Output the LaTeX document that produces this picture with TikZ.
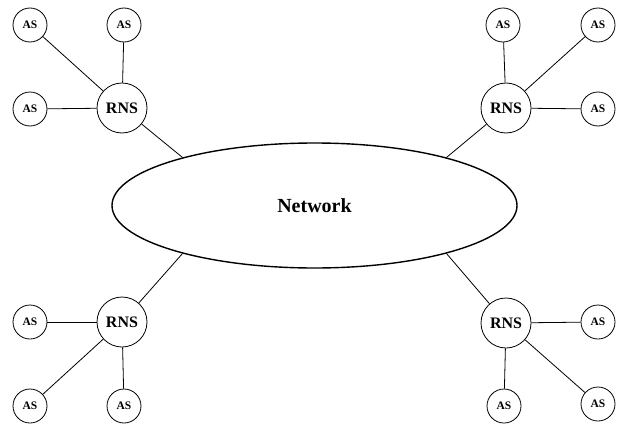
\documentclass[tikz,border=0pt]{standalone}
\usepackage{fontspec}
\setmainfont{Liberation Serif}
\usetikzlibrary{shapes.geometric}
\begin{document}
\begin{tikzpicture}[x=1pt,y=-1pt,line width=0.8pt,
        as/.style={circle, draw, minimum size=34pt, inner sep=0pt, font=\fontsize{11.5}{12}\selectfont\bfseries},
        rns/.style={circle, draw, minimum size=50pt, inner sep=0pt, font=\fontsize{16}{18}\selectfont\bfseries}]
        \useasboundingbox (0,0) rectangle (618,423);
        \node[ellipse, draw, line width=1.4pt, minimum width=405pt, minimum height=125pt, font=\fontsize{20}{22}\selectfont\bfseries] (net) at (314.5,205.5) {Network};
        \node[rns] (rnsA) at (122,108) {RNS};
        \node[rns] (rnsB) at (506,108) {RNS};
        \node[rns] (rnsC) at (122,322) {RNS};
        \node[rns] (rnsD) at (506,323) {RNS};
        \node[as] (asA1) at (30,25) {AS};
        \node[as] (asA2) at (124,25) {AS};
        \node[as] (asA3) at (30,109) {AS};
        \node[as] (asB1) at (503,25) {AS};
        \node[as] (asB2) at (598,25) {AS};
        \node[as] (asB3) at (598,109) {AS};
        \node[as] (asC1) at (30,322) {AS};
        \node[as] (asC2) at (30,406) {AS};
        \node[as] (asC3) at (124,406) {AS};
        \node[as] (asD1) at (598,322) {AS};
        \node[as] (asD2) at (504,406) {AS};
        \node[as] (asD3) at (598,404) {AS};
        \draw (rnsA) -- (net.160);
        \draw (rnsB) -- (net.20);
        \draw (rnsC) -- (net.200);
        \draw (rnsD) -- (net.340);
        \draw (rnsA) -- (asA1);
        \draw (rnsA) -- (asA2);
        \draw (rnsA) -- (asA3);
        \draw (rnsB) -- (asB1);
        \draw (rnsB) -- (asB2);
        \draw (rnsB) -- (asB3);
        \draw (rnsC) -- (asC1);
        \draw (rnsC) -- (asC2);
        \draw (rnsC) -- (asC3);
        \draw (rnsD) -- (asD1);
        \draw (rnsD) -- (asD2);
        \draw (rnsD) -- (asD3);
\end{tikzpicture}
\end{document}
